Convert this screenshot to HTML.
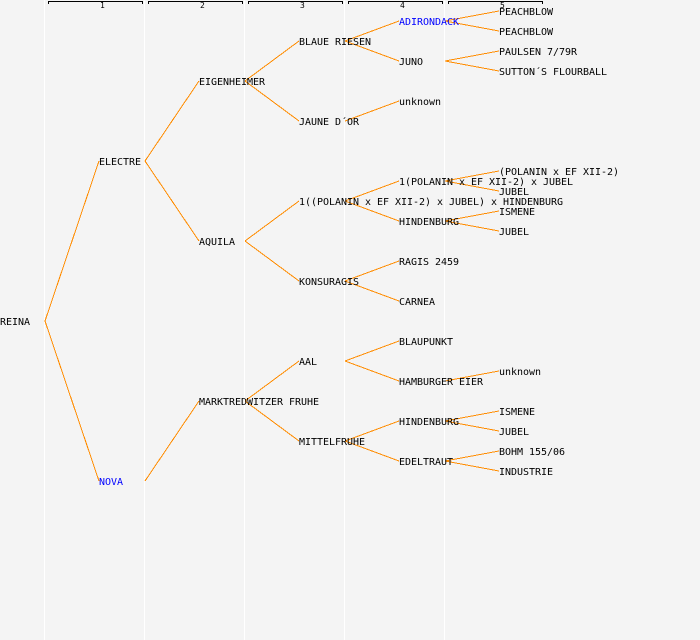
<!DOCTYPE html>
<html>
<head>
<meta charset="utf-8">
<style>
html,body{margin:0;padding:0;background:#f4f4f4;}
svg{display:block;}
text{font-family:"DejaVu Sans Mono","Liberation Mono",monospace;font-size:10px;letter-spacing:-0.02px;fill:#000;}
.b{fill:#0000ff;}
.n{font-size:8px;}
</style>
</head>
<body>
<svg width="700" height="640" viewBox="0 0 700 640" xmlns="http://www.w3.org/2000/svg">
<rect width="700" height="640" fill="#f4f4f4"/>
<g stroke="#ffffff" stroke-width="1" shape-rendering="crispEdges">
<path d="M44.5 0V640M144.5 0V640M244.5 0V640M344.5 0V640M444.5 0V640"/>
</g>
<g stroke="#000" fill="none" stroke-width="1" shape-rendering="crispEdges">
<path d="M48.5 4V1.5H142.5V4M148.5 4V1.5H242.5V4M248.5 4V1.5H342.5V4M348.5 4V1.5H442.5V4M448.5 4V1.5H542.5V4"/>
</g>
<g stroke="#ff8c00" fill="none" stroke-width="1" shape-rendering="crispEdges">
<path d="M45 321L99 161M45 321L99 481"/>
<path d="M145 161L199 81M145 161L199 241M145 481L199 401"/>
<path d="M245 81L299 41M245 81L299 121M245 241L299 201M245 241L299 281M245 401L299 361M245 401L299 441"/>
<path d="M345 41L399 21M345 41L399 61M345 121L399 101M345 201L399 181M345 201L399 221M345 281L399 261M345 281L399 301M345 361L399 341M345 361L399 381M345 441L399 421M345 441L399 461"/>
<path d="M445 21L499 11M445 21L499 31M445 61L499 51M445 61L499 71M445 181L499 171M445 181L499 191M445 221L499 211M445 221L499 231M445 381L499 371M445 421L499 411M445 421L499 431M445 461L499 451M445 461L499 471"/>
</g>
<g class="n">
<text class="n" x="100" y="8">1</text>
<text class="n" x="200" y="8">2</text>
<text class="n" x="300" y="8">3</text>
<text class="n" x="400" y="8">4</text>
<text class="n" x="500" y="8">5</text>
</g>
<text x="0" y="325">REINA</text>
<text x="99" y="165">ELECTRE</text>
<text x="99" y="485" class="b">NOVA</text>
<text x="199" y="85">EIGENHEIMER</text>
<text x="199" y="245">AQUILA</text>
<text x="199" y="405">MARKTREDWITZER FRUHE</text>
<text x="299" y="45">BLAUE RIESEN</text>
<text x="299" y="125">JAUNE D´OR</text>
<text x="299" y="205">1((POLANIN x EF XII-2) x JUBEL) x HINDENBURG</text>
<text x="299" y="285">KONSURAGIS</text>
<text x="299" y="365">AAL</text>
<text x="299" y="445">MITTELFRUHE</text>
<text x="399" y="25" class="b">ADIRONDACK</text>
<text x="399" y="65">JUNO</text>
<text x="399" y="105">unknown</text>
<text x="399" y="185">1(POLANIN x EF XII-2) x JUBEL</text>
<text x="399" y="225">HINDENBURG</text>
<text x="399" y="265">RAGIS 2459</text>
<text x="399" y="305">CARNEA</text>
<text x="399" y="345">BLAUPUNKT</text>
<text x="399" y="385">HAMBURGER EIER</text>
<text x="399" y="425">HINDENBURG</text>
<text x="399" y="465">EDELTRAUT</text>
<text x="499" y="15">PEACHBLOW</text>
<text x="499" y="35">PEACHBLOW</text>
<text x="499" y="55">PAULSEN 7/79R</text>
<text x="499" y="75">SUTTON´S FLOURBALL</text>
<text x="499" y="175">(POLANIN x EF XII-2)</text>
<text x="499" y="195">JUBEL</text>
<text x="499" y="215">ISMENE</text>
<text x="499" y="235">JUBEL</text>
<text x="499" y="375">unknown</text>
<text x="499" y="415">ISMENE</text>
<text x="499" y="435">JUBEL</text>
<text x="499" y="455">BOHM 155/06</text>
<text x="499" y="475">INDUSTRIE</text>
</svg>
</body>
</html>
